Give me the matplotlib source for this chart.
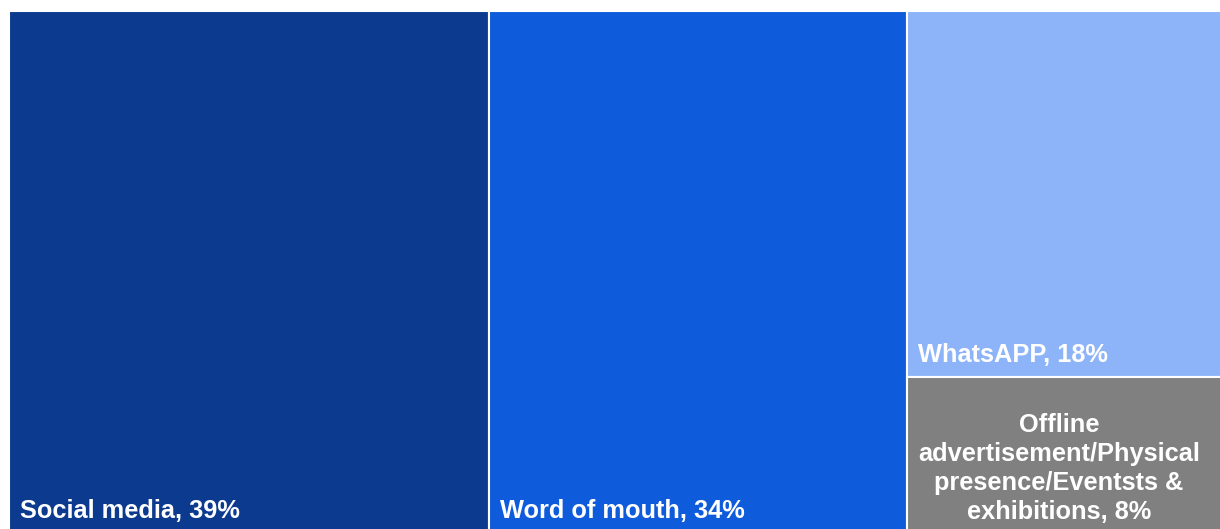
import matplotlib.pyplot as plt
from matplotlib.patches import Rectangle

# treemap data
labels = ["Social media", "Word of mouth", "WhatsAPP",
          "Offline\nadvertisement/Physical\npresence/Eventsts &\nexhibitions"]
values = [39, 34, 18, 8]
colors = ["#0B3A8F", "#0E5BDB", "#8DB4F9", "#808080"]

plt.rcParams['font.family'] = ['Liberation Sans', 'DejaVu Sans']

fig = plt.figure(figsize=(12.2, 5.29), dpi=100)
# axes slightly larger than the canvas, the reference is cropped right and bottom
ax = fig.add_axes([9 / 1220, -11 / 529, 1218 / 1220, 529 / 529])
total = sum(values)
ax.set_xlim(0, total)
ax.set_ylim(0, 1)
ax.axis('off')

# layout: first two as full columns, the last two stacked in the third column
rects = []
x = 0
for v in values[:2]:
    rects.append((x, 0, v, 1))
    x += v
rest = sum(values[2:])
w = total - x
y = 1
for v in values[2:]:
    h = v / rest
    y -= h
    rects.append((x, y, w, h))

for (rx, ry, rw, rh), c in zip(rects, colors):
    ax.add_patch(Rectangle((rx, ry), rw, rh, facecolor=c, edgecolor='white', linewidth=1.5))

# bottom-left labels
offsets = [22, 22, 15]
for i in range(3):
    rx, ry, rw, rh = rects[i]
    ax.annotate(f"{labels[i]}, {values[i]}%", (rx, ry), xytext=(11, offsets[i]),
                textcoords='offset pixels', ha='left', va='baseline',
                color='white', fontsize=18.3, fontweight='bold')

# small tile: centered multi-line label
rx, ry, rw, rh = rects[3]
ax.annotate(f"{labels[3]}, {values[3]}%", (rx + rw / 2, ry + rh / 2), xytext=(-8, -10),
            textcoords='offset pixels', ha='center', va='center', multialignment='center',
            linespacing=1.27, color='white', fontsize=18.3, fontweight='bold')

plt.savefig("out.png", dpi=100)
